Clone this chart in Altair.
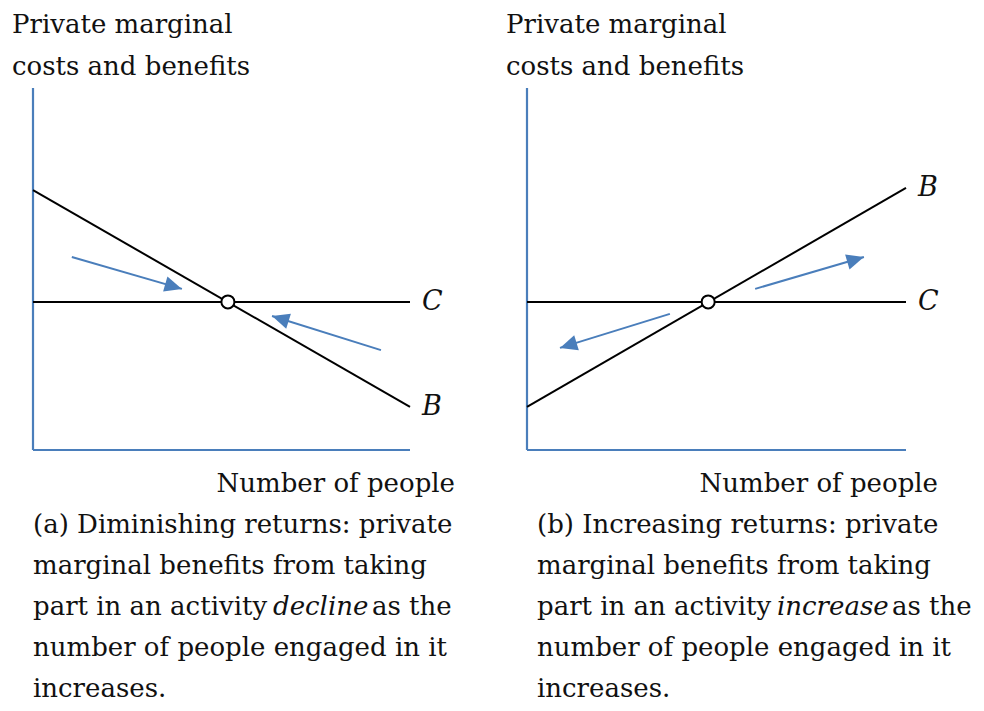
import math
import altair as alt
import pandas as pd

# ---------------- data (abstract chart units, 0-100 on both axes) ----------------
axis_x_start = [0, 0]
axis_x_end = [0, 100]
axis_y_start = [0, 0]
axis_y_end = [100, 0]

cost_x = [0, 100]
cost_y = [40.9, 40.9]

a_benefit_x = [0, 100]
a_benefit_y = [71.8, 11.9]
b_benefit_x = [0, 100]
b_benefit_y = [11.9, 72.4]

a_eq_x, a_eq_y = [51.7], [40.9]
b_eq_x, b_eq_y = [47.8], [40.9]

a_arrow_x0 = [10.3, 92.3]
a_arrow_y0 = [53.3, 27.6]
a_arrow_x1 = [39.5, 63.4]
a_arrow_y1 = [44.5, 37.0]

b_arrow_x0 = [37.7, 60.2]
b_arrow_y0 = [37.6, 44.5]
b_arrow_x1 = [8.7, 88.9]
b_arrow_y1 = [28.2, 53.3]

y_title = ["Private marginal", "costs and benefits"]
x_title = "Number of people"
caption_a = ["(a) Diminishing returns: private", "marginal benefits from taking",
             ["part in an activity", "decline", "as the"],
             "number of people engaged in it", "increases."]
caption_b = ["(b) Increasing returns: private", "marginal benefits from taking",
             ["part in an activity", "increase", "as the"],
             "number of people engaged in it", "increases."]

# ---------------- layout / style ----------------
W, H = 968, 695
Y_RANGE = [442, 80]
X_RANGE = {"a": [25, 402], "b": [519, 898]}
XTITLE_RIGHT = {"a": 447, "b": 930}
TITLE_X = {"a": 4, "b": 498}
CAPTION_X = {"a": 25, "b": 529}
BLUE = "#4a7ebb"
FONT = "DejaVu Serif"
FS = 26
LH = 41
CAP_Y0 = 525
# approximate rendered widths (px) of the pieces of the mixed-style caption line
PIECE_W = {"part in an activity": 229, "decline": 90, "increase": 106}
SPACE_BEFORE = 11
SPACE_AFTER = 9
ARROW_PATH = "M0,0L-2,-0.9L-2,0.9Z"

yscale = alt.Scale(domain=[0, 100], range=Y_RANGE)


def xscale(p):
    return alt.Scale(domain=[0, 100], range=X_RANGE[p])


def text_layer(txt, x, y, align="left", style="normal", size=FS, lh=LH):
    return alt.Chart(pd.DataFrame({"k": [0]})).mark_text(
        font=FONT, fontSize=size, align=align, baseline="alphabetic",
        fontStyle=style, lineHeight=lh, color="#111111"
    ).encode(text=alt.value(txt), x=alt.value(x), y=alt.value(y))


def panel(p, bx, by, ex, ey, ax0, ay0, ax1, ay1, caption):
    xs = xscale(p)
    axes_df = pd.DataFrame({"x": axis_x_start, "x2": axis_x_end,
                            "y": axis_y_start, "y2": axis_y_end})
    axes = alt.Chart(axes_df).mark_rule(color=BLUE, strokeWidth=2.2).encode(
        x=alt.X("x:Q", scale=xs, axis=None), x2="x2:Q",
        y=alt.Y("y:Q", scale=yscale, axis=None), y2="y2:Q")

    lines_df = pd.DataFrame({"x": [cost_x[0], bx[0]], "x2": [cost_x[1], bx[1]],
                             "y": [cost_y[0], by[0]], "y2": [cost_y[1], by[1]]})
    lines = alt.Chart(lines_df).mark_rule(color="black", strokeWidth=2).encode(
        x=alt.X("x:Q", scale=xs, axis=None), x2="x2:Q",
        y=alt.Y("y:Q", scale=yscale, axis=None), y2="y2:Q")

    px = (X_RANGE[p][1] - X_RANGE[p][0]) / 100.0
    py = (Y_RANGE[0] - Y_RANGE[1]) / 100.0
    angles = [math.degrees(math.atan2(-(y1 - y0) * py, (x1 - x0) * px)) % 360
              for x0, y0, x1, y1 in zip(ax0, ay0, ax1, ay1)]
    arr_df = pd.DataFrame({"x": ax0, "y": ay0, "x2": ax1, "y2": ay1, "angle": angles})
    shafts = alt.Chart(arr_df).mark_rule(color=BLUE, strokeWidth=2).encode(
        x=alt.X("x:Q", scale=xs, axis=None), x2="x2:Q",
        y=alt.Y("y:Q", scale=yscale, axis=None), y2="y2:Q")
    heads = alt.Chart(arr_df).mark_point(
        shape=ARROW_PATH, filled=True, size=300, color=BLUE, opacity=1, strokeWidth=0
    ).encode(
        x=alt.X("x2:Q", scale=xs, axis=None),
        y=alt.Y("y2:Q", scale=yscale, axis=None),
        angle=alt.Angle("angle:Q", scale=None))

    eq_df = pd.DataFrame({"x": ex, "y": ey})
    eq = alt.Chart(eq_df).mark_point(
        shape="circle", filled=True, fill="white", stroke="black", strokeWidth=2,
        size=170, opacity=1
    ).encode(x=alt.X("x:Q", scale=xs, axis=None), y=alt.Y("y:Q", scale=yscale, axis=None))

    lab_df = pd.DataFrame({"x": [cost_x[1], bx[1]], "y": [cost_y[1], by[1]],
                           "label": ["C", "B"]})
    labels = alt.Chart(lab_df).mark_text(
        font=FONT, fontSize=27, fontStyle="italic", align="left", baseline="middle",
        dx=12, color="#111111"
    ).encode(x=alt.X("x:Q", scale=xs, axis=None), y=alt.Y("y:Q", scale=yscale, axis=None),
             text="label:N")

    cx = CAPTION_X[p]
    first, ital, last = caption[2]
    ix = cx + PIECE_W[first] + SPACE_BEFORE
    lx = ix + PIECE_W[ital] + SPACE_AFTER
    y3 = CAP_Y0 + 2 * LH
    texts = [
        text_layer(y_title, TITLE_X[p], 25, lh=42),
        text_layer(x_title, XTITLE_RIGHT[p], 484, align="right"),
        text_layer(caption[:2], cx, CAP_Y0),
        text_layer(first, cx, y3),
        text_layer(ital, ix, y3, style="italic"),
        text_layer(last, lx, y3),
        text_layer(caption[3:], cx, CAP_Y0 + 3 * LH),
    ]
    return [axes, lines, shafts, heads, eq, labels] + texts


layers = panel("a", a_benefit_x, a_benefit_y, a_eq_x, a_eq_y,
               a_arrow_x0, a_arrow_y0, a_arrow_x1, a_arrow_y1, caption_a)
layers += panel("b", b_benefit_x, b_benefit_y, b_eq_x, b_eq_y,
                b_arrow_x0, b_arrow_y0, b_arrow_x1, b_arrow_y1, caption_b)

chart = alt.layer(*layers).resolve_scale(x="independent").properties(
    width=W, height=H, autosize=alt.AutoSizeParams(type="none"),
    padding={"left": 0, "right": 0, "top": 0, "bottom": 0}, background="white"
).configure_view(stroke=None)

chart.save("out.html", embed_options={"renderer": "svg", "actions": False})
